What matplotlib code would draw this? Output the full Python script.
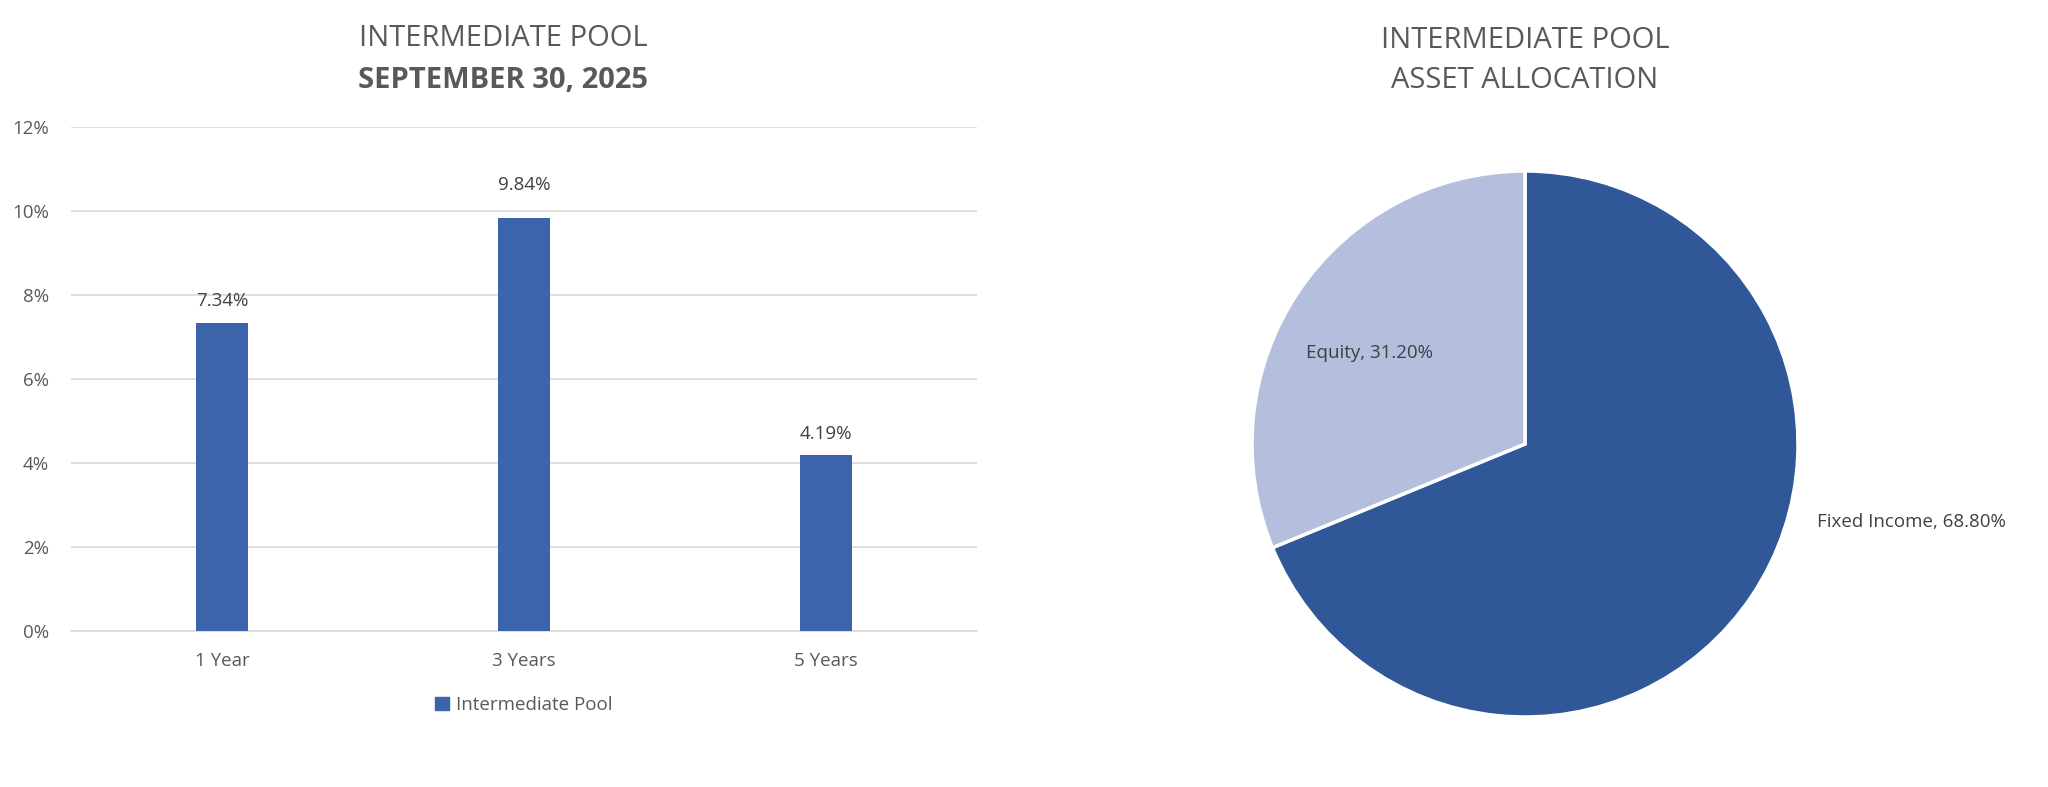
import matplotlib.pyplot as plt
from matplotlib.patches import Patch
from matplotlib.ticker import FuncFormatter

# Données
periods = ["1 Year", "3 Years", "5 Years"]
returns = [7.34, 9.84, 4.19]
series_name = "Intermediate Pool"

assets = ["Fixed Income", "Equity"]
weights = [68.80, 31.20]

BAR_COLOR = "#3C64AB"
PIE_COLORS = ["#305899", "#B4BFDE"]
GREY = "#595959"
DARK = "#404040"
GRID = "#D9D9D9"
FS = 13.5

plt.rcParams["font.family"] = ["Open Sans", "DejaVu Sans"]

fig = plt.figure(figsize=(20.48, 7.87), dpi=100)

# =============================
# Bar chart
# =============================
ax = fig.add_axes([71 / 2048, 156 / 787, 906 / 2048, 504 / 787])
x = range(len(periods))
bars = ax.bar(x, returns, width=0.175, color=BAR_COLOR, zorder=3)
ax.set_ylim(0, 12)
ax.set_xlim(-0.5, len(periods) - 0.5)
ax.set_yticks(range(0, 13, 2))
ax.yaxis.set_major_formatter(FuncFormatter(lambda v, _: f"{v:.0f}%"))
ax.set_xticks(list(x))
ax.set_xticklabels(periods)
ax.tick_params(axis="both", length=0, labelsize=FS, colors=GREY)
ax.tick_params(axis="y", pad=16)
ax.tick_params(axis="x", pad=15)
ax.grid(axis="y", color=GRID, linewidth=1.2, zorder=0)
for side in ["top", "right", "left"]:
    ax.spines[side].set_visible(False)
ax.spines["bottom"].set_color(GRID)
ax.spines["bottom"].set_linewidth(1.2)

# étiquettes de données (décalage comme dans Excel)
label_offsets = [9, 17, 9]
for xi, v, off in zip(x, returns, label_offsets):
    ax.annotate(f"{v:.2f}%", (xi, v), xytext=(0, off), textcoords="offset points",
                ha="center", va="bottom", fontsize=FS, color=DARK)

ax.legend(handles=[Patch(color=BAR_COLOR, label=series_name)],
          loc="center", bbox_to_anchor=(0.5, -0.147), frameon=False,
          fontsize=FS, labelcolor=GREY, handlelength=0.7, handleheight=0.7,
          handletextpad=0.4)

fig.text(503 / 2048, 1 - 38 / 787, "INTERMEDIATE POOL", ha="center", va="center",
         fontsize=21, color=GREY)
fig.text(503 / 2048, 1 - 81 / 787, "SEPTEMBER 30, 2025", ha="center", va="center",
         fontsize=21, color=GREY, fontweight="bold")

# =============================
# Pie chart
# =============================
r = 273
axp = fig.add_axes([(1525 - r) / 2048, (787 - 444 - r) / 787, 2 * r / 2048, 2 * r / 787])
wedges, texts = axp.pie(weights, colors=PIE_COLORS, startangle=90, counterclock=False,
                        labels=[f"{a}, {w:.2f}%" for a, w in zip(assets, weights)],
                        wedgeprops=dict(edgecolor="white", linewidth=2.5),
                        textprops=dict(fontsize=FS, color=DARK))
axp.set_xlim(-1, 1)
axp.set_ylim(-1, 1)
axp.set_aspect("equal")
axp.axis("off")

texts[0].set_position((1.07, -0.285))
texts[0].set_ha("left")
texts[0].set_va("center")
texts[1].set_position((-0.57, 0.335))
texts[1].set_ha("center")
texts[1].set_va("center")

fig.text(1525 / 2048, 1 - 40 / 787, "INTERMEDIATE POOL", ha="center", va="center",
         fontsize=21, color=GREY)
fig.text(1525 / 2048, 1 - 80 / 787, "ASSET ALLOCATION", ha="center", va="center",
         fontsize=21, color=GREY)

fig.savefig("out.png", dpi=100, facecolor="white")
